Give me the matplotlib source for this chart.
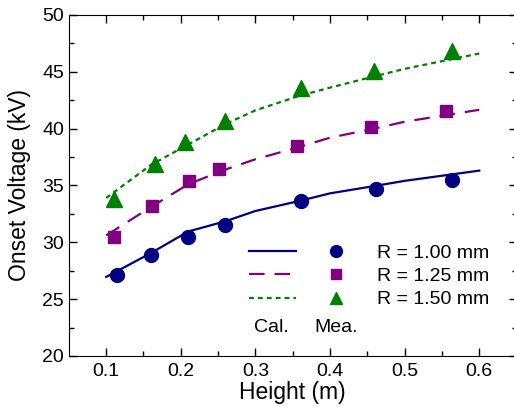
import matplotlib
matplotlib.use('Agg')
import matplotlib.pyplot as plt
from matplotlib.legend_handler import HandlerTuple

plt.rcParams['font.family'] = ['Liberation Sans', 'DejaVu Sans']

# calculated curves
cal_h = [0.10, 0.16, 0.21, 0.26, 0.30, 0.36, 0.40, 0.46, 0.50, 0.60]
cal_100 = [26.95, 29.05, 30.95, 31.85, 32.75, 33.65, 34.30, 34.95, 35.40, 36.30]
cal_125 = [30.60, 33.10, 35.10, 36.40, 37.30, 38.40, 39.20, 40.00, 40.60, 41.65]
cal_150 = [33.90, 36.80, 38.60, 40.40, 41.60, 42.90, 43.60, 44.60, 45.25, 46.60]

# measured points
mea_h_100 = [0.114, 0.160, 0.210, 0.259, 0.361, 0.461, 0.564]
mea_100 = [27.1, 28.9, 30.5, 31.5, 33.65, 34.7, 35.5]
mea_h_125 = [0.111, 0.161, 0.211, 0.251, 0.356, 0.455, 0.555]
mea_125 = [30.5, 33.2, 35.35, 36.4, 38.45, 40.1, 41.5]
mea_h_150 = [0.110, 0.165, 0.205, 0.259, 0.361, 0.459, 0.564]
mea_150 = [33.8, 36.9, 38.8, 40.7, 43.55, 45.05, 46.8]

labels = ['R = 1.00 mm', 'R = 1.25 mm', 'R = 1.50 mm']
colors = ['#000080', '#800080', '#008000']

fig = plt.figure(figsize=(5.14, 4.12), dpi=100)
ax = fig.add_axes([0.134, 0.136, 0.871, 0.828])

l1, = ax.plot(cal_h, cal_100, '-', color=colors[0], lw=1.6)
l2, = ax.plot(cal_h, cal_125, color=colors[1], lw=1.6, dashes=(7, 4.5))
l3, = ax.plot(cal_h, cal_150, color=colors[2], lw=1.6, dashes=(2.2, 1.8))
m1, = ax.plot(mea_h_100, mea_100, 'o', color=colors[0], ms=10, ls='none')
m2, = ax.plot(mea_h_125, mea_125, 's', color=colors[1], ms=8.5, ls='none')
m3, = ax.plot(mea_h_150, mea_150, '^', color=colors[2], ms=11, ls='none')

ax.legend([(l1, m1), (l2, m2), (l3, m3)], labels,
          handler_map={tuple: HandlerTuple(ndivide=None, pad=0.8)},
          loc='upper left', bbox_to_anchor=(0.38, 0.357), frameon=False,
          fontsize=14, borderpad=0, handlelength=5.7, handletextpad=0.9,
          labelspacing=0.3, markerscale=0.85)
ax.text(0.322, 22.5, 'Cal.', fontsize=14, ha='center', va='center')
ax.text(0.408, 22.5, 'Mea.', fontsize=14, ha='center', va='center')

ax.set_xlim(0.05, 0.65)
ax.set_ylim(20, 50)
ax.set_xticks([0.1, 0.2, 0.3, 0.4, 0.5, 0.6])
ax.set_xticks([0.15, 0.25, 0.35, 0.45, 0.55, 0.65], minor=True)
ax.set_yticks([20, 25, 30, 35, 40, 45, 50])
ax.set_yticks([22.5, 27.5, 32.5, 37.5, 42.5, 47.5], minor=True)
ax.tick_params(which='both', direction='in', top=True, right=True, labelsize=14)
ax.tick_params(axis='x', pad=5)
ax.tick_params(which='major', length=6, width=1)
ax.tick_params(which='minor', length=3.5, width=1)
ax.set_xlabel('Height (m)', fontsize=16.5, labelpad=1)
ax.set_ylabel('Onset Voltage (kV)', fontsize=16.5, labelpad=8)

fig.savefig('out.png', dpi=100)
